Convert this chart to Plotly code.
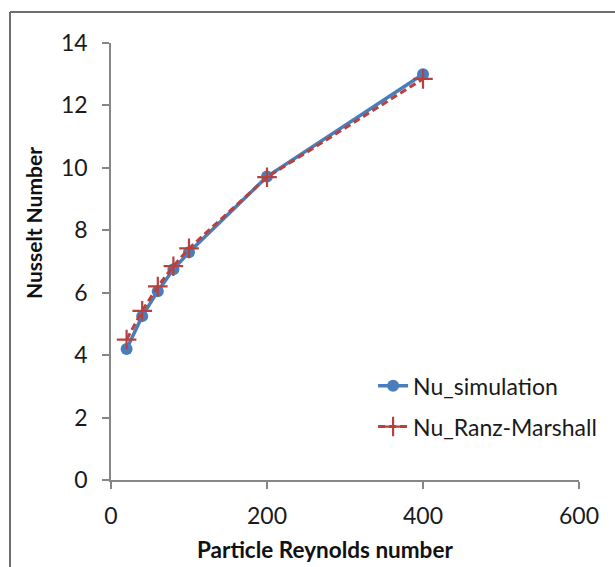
import plotly.graph_objects as go

re_vals = [20, 40, 60, 80, 100, 200, 400]
nu_simulation = [4.2, 5.25, 6.05, 6.75, 7.3, 9.72, 13.0]
nu_ranz_marshall = [4.5, 5.42, 6.2, 6.85, 7.42, 9.7, 12.85]

x_ticks = [0, 200, 400, 600]
y_ticks = [0, 2, 4, 6, 8, 10, 12, 14]

FONT = "Lato"
BLUE = "#4A7EBB"
RED = "#B8413E"
AXIS = "#868686"

fig = go.Figure()
fig.add_trace(go.Scatter(
    x=re_vals, y=nu_simulation, name="Nu_simulation", mode="lines+markers",
    line=dict(color=BLUE, width=3.5),
    marker=dict(symbol="circle", size=12, color=BLUE),
    legendgroup="a",
))
fig.add_trace(go.Scatter(
    x=re_vals, y=nu_ranz_marshall, name="Nu_Ranz-Marshall", mode="lines+markers",
    line=dict(color=RED, width=3, dash="7px,4px"),
    marker=dict(symbol="cross-thin", size=14, color=RED, line=dict(color=RED, width=2.2)),
    legendgroup="b",
))

fig.update_layout(
    width=615, height=567,
    margin=dict(l=111, r=36, t=43, b=87),
    paper_bgcolor="white", plot_bgcolor="white",
    font=dict(family=FONT, color="#1a1a1a"),
    showlegend=True,
    legend=dict(
        x=0.56, y=0.265, xanchor="left", yanchor="top",
        font=dict(family=FONT, size=23, color="#1a1a1a"),
        bgcolor="rgba(0,0,0,0)", tracegroupgap=8,
    ),
    xaxis=dict(
        range=[0, 600], tickvals=x_ticks, showgrid=False, zeroline=False,
        showline=True, linecolor=AXIS, linewidth=1.5,
        ticks="outside", ticklen=7, tickcolor=AXIS, tickwidth=1.5,
        tickfont=dict(family=FONT, size=23, color="#1a1a1a"),
        ticklabelstandoff=8,
    ),
    yaxis=dict(
        range=[0, 14], tickvals=y_ticks, showgrid=False, zeroline=False,
        showline=True, linecolor=AXIS, linewidth=1.5,
        ticks="outside", ticklen=7, tickcolor=AXIS, tickwidth=1.5,
        tickfont=dict(family=FONT, size=23, color="#1a1a1a"),
        ticklabelstandoff=10,
    ),
    annotations=[
        dict(text="<b>Particle Reynolds number</b>", xref="paper", yref="paper",
             x=0.457, y=-0.158, xanchor="center", yanchor="middle", showarrow=False,
             font=dict(family=FONT, size=22.5, color="#111")),
        dict(text="<b>Nusselt Number</b>", xref="paper", yref="paper",
             x=-0.1667, y=0.588, xanchor="center", yanchor="middle", showarrow=False,
             textangle=-90, font=dict(family=FONT, size=21, color="#111")),
    ],
    shapes=[
        dict(type="line", xref="paper", yref="paper",
             x0=-0.2158, x1=1.077, y0=1.0709, y1=1.0709,
             line=dict(color="#6e6e6e", width=2), layer="below"),
        dict(type="line", xref="paper", yref="paper",
             x0=-0.2158, x1=-0.2158, y0=-0.199, y1=1.0709,
             line=dict(color="#6e6e6e", width=2), layer="below"),
    ],
)

fig.write_html("out.html", config={"displayModeBar": False})
